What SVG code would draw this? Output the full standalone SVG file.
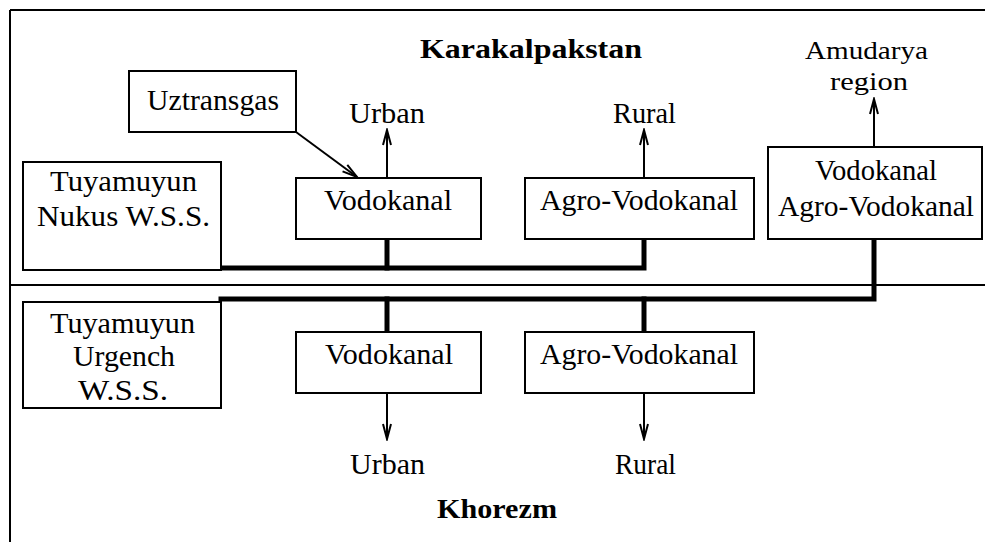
<svg xmlns="http://www.w3.org/2000/svg" width="985" height="542" viewBox="0 0 985 542">
<style>
  .bg{fill:#ffffff}
  .frame{stroke:#000;stroke-width:2;fill:none}
  .box{fill:#fff;stroke:#000;stroke-width:2}
  .t{font-family:"Liberation Serif","Times New Roman",serif;font-size:29px;fill:#000}
  .s{font-size:26px}
  .b{font-family:"Liberation Serif","Times New Roman",serif;font-size:27px;font-weight:bold;fill:#000}
  .thick{stroke:#000;stroke-width:5;fill:none;stroke-linecap:square}
  .thin{stroke:#000;stroke-width:2;fill:none}
</style>
<defs>
  <marker id="arr" markerUnits="userSpaceOnUse" markerWidth="18" markerHeight="12" refX="16" refY="6" orient="auto">
    <path d="M1,2 L16,6 L1,10" fill="none" stroke="#000" stroke-width="2"/>
  </marker>
</defs>
<rect class="bg" x="0" y="0" width="985" height="542"/>
<g id="frame">
  <line class="frame" x1="10" y1="10" x2="10" y2="542"/>
  <line class="frame" x1="10" y1="10" x2="985" y2="10"/>
  <line class="frame" x1="10" y1="285" x2="985" y2="285"/>
</g>
<g id="labels">
  <text class="b" x="420" y="58" textLength="222" lengthAdjust="spacingAndGlyphs">Karakalpakstan</text>
  <text class="b" x="437" y="518" textLength="120" lengthAdjust="spacingAndGlyphs">Khorezm</text>
</g>
<g id="connectors">
  <polyline class="thick" points="221,268 644,268 644,239"/>
  <line class="thick" x1="387" y1="239" x2="387" y2="268"/>
  <polyline class="thick" points="221,299 874,299 874,239"/>
  <line class="thick" x1="387" y1="299" x2="387" y2="332"/>
  <line class="thick" x1="644" y1="299" x2="644" y2="332"/>
  <line class="thin" x1="296" y1="132" x2="357" y2="177" marker-end="url(#arr)"/>
  <line class="thin" x1="387" y1="178" x2="387" y2="130" marker-end="url(#arr)"/>
  <line class="thin" x1="644" y1="178" x2="644" y2="130" marker-end="url(#arr)"/>
  <line class="thin" x1="874" y1="147" x2="874" y2="99" marker-end="url(#arr)"/>
  <line class="thin" x1="387" y1="393" x2="387" y2="439" marker-end="url(#arr)"/>
  <line class="thin" x1="644" y1="393" x2="644" y2="439" marker-end="url(#arr)"/>
</g>
<g id="uztransgas">
  <rect class="box" x="129" y="71" width="167" height="61"/>
  <text class="t" x="147" y="110" textLength="132" lengthAdjust="spacingAndGlyphs">Uztransgas</text>
</g>
<g id="nukus-wss">
  <rect class="box" x="23" y="162" width="198" height="108"/>
  <text class="t" x="50" y="191" textLength="147" lengthAdjust="spacingAndGlyphs">Tuyamuyun</text>
  <text class="t" x="37" y="226" textLength="173" lengthAdjust="spacingAndGlyphs">Nukus W.S.S.</text>
</g>
<g id="kk-vodokanal">
  <rect class="box" x="296" y="178" width="185" height="61"/>
  <text class="t" x="324" y="210" textLength="128" lengthAdjust="spacingAndGlyphs">Vodokanal</text>
</g>
<g id="kk-urban">
  <text class="t" x="349" y="123" textLength="76" lengthAdjust="spacingAndGlyphs">Urban</text>
</g>
<g id="kk-agro">
  <rect class="box" x="525" y="178" width="229" height="61"/>
  <text class="t" x="540" y="210" textLength="198" lengthAdjust="spacingAndGlyphs">Agro-Vodokanal</text>
</g>
<g id="kk-rural">
  <text class="t" x="613" y="123" textLength="63" lengthAdjust="spacingAndGlyphs">Rural</text>
</g>
<g id="amudarya">
  <text class="t s" x="805" y="59" textLength="123" lengthAdjust="spacingAndGlyphs">Amudarya</text>
  <text class="t s" x="830" y="90" textLength="78" lengthAdjust="spacingAndGlyphs">region</text>
</g>
<g id="amu-vodokanal">
  <rect class="box" x="768" y="147" width="214" height="92"/>
  <text class="t" x="815" y="180" textLength="122" lengthAdjust="spacingAndGlyphs">Vodokanal</text>
  <text class="t" x="778" y="216" textLength="196" lengthAdjust="spacingAndGlyphs">Agro-Vodokanal</text>
</g>
<g id="urgench-wss">
  <rect class="box" x="23" y="302" width="198" height="106"/>
  <text class="t" x="50" y="333" textLength="145" lengthAdjust="spacingAndGlyphs">Tuyamuyun</text>
  <text class="t" x="73" y="366" textLength="102" lengthAdjust="spacingAndGlyphs">Urgench</text>
  <text class="t" x="78" y="400" textLength="90" lengthAdjust="spacingAndGlyphs">W.S.S.</text>
</g>
<g id="kh-vodokanal">
  <rect class="box" x="296" y="332" width="185" height="61"/>
  <text class="t" x="325" y="364" textLength="128" lengthAdjust="spacingAndGlyphs">Vodokanal</text>
</g>
<g id="kh-urban">
  <text class="t" x="350" y="474" textLength="75" lengthAdjust="spacingAndGlyphs">Urban</text>
</g>
<g id="kh-agro">
  <rect class="box" x="525" y="332" width="229" height="61"/>
  <text class="t" x="540" y="364" textLength="198" lengthAdjust="spacingAndGlyphs">Agro-Vodokanal</text>
</g>
<g id="kh-rural">
  <text class="t" x="615" y="474" textLength="61" lengthAdjust="spacingAndGlyphs">Rural</text>
</g>
</svg>
